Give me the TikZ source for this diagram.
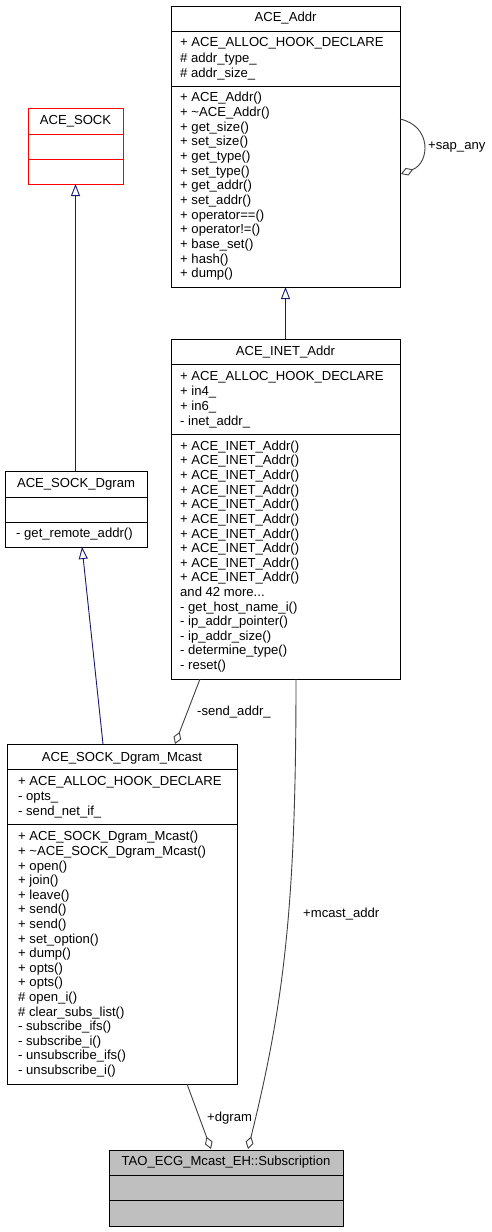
\documentclass[tikz,border=0pt]{standalone}
\usepackage{fontspec}
\setmainfont{Liberation Sans}
\usetikzlibrary{arrows.meta}
\definecolor{inhcol}{HTML}{191970}
\definecolor{aggcol}{HTML}{404040}
\definecolor{boxgray}{HTML}{BFBFBF}
\newcommand\umlrows[5]{\foreach \t [count=\i from 0] in {#5} {\node[rowtext] (#4\i) at (#1, {#2 + \i*#3}) {\t};}}
\tikzset{
  rowtext/.style={anchor=base west, inner sep=0pt, font=\fontsize{13.1}{15}\selectfont},
  titletext/.style={anchor=base, inner sep=0pt, font=\fontsize{13.1}{15}\selectfont},
  labeltext/.style={anchor=base west, inner sep=0pt, font=\fontsize{13.1}{15}\selectfont},
  umlbox/.style={draw=black, line width=1pt, anchor=north west, inner sep=0pt, outer sep=0pt},
  divider/.style={draw=black, line width=1pt},
  inherit/.style={draw=inhcol, line width=0.9pt, -{Triangle[open, length=12pt, width=9pt]}},
  aggr/.style={draw=aggcol, line width=0.9pt, -{Diamond[open, length=13pt, width=8pt]}},
}
\begin{document}
\begin{tikzpicture}[x=1pt,y=-1pt]
\useasboundingbox[fill=white] (0,0) rectangle (491,1232);

% ---------- ACE_Addr
\node[umlbox, minimum width=229pt, minimum height=281pt] (addr) at (171,6) {};
\draw[divider] (171,31) -- (400,31);
\draw[divider] (171,86) -- (400,86);
\node[titletext] (addrT) at (285.5,21.7) {ACE\_Addr};
\umlrows{180}{46.9}{15.2}{addrA}{+ ACE\_ALLOC\_HOOK\_DECLARE, \# addr\_type\_, \# addr\_size\_}
\umlrows{180}{101.9}{14.67}{addrM}{+ ACE\_Addr(), + \textasciitilde ACE\_Addr(), + get\_size(), + set\_size(), + get\_type(), + set\_type(), + get\_addr(), + set\_addr(), + operator==(), + operator!=(), + base\_set(), + hash(), + dump()}

% ---------- ACE_SOCK
\node[umlbox, draw=red, minimum width=95pt, minimum height=76pt] (sock) at (28,108) {};
\draw[divider, draw=red] (28,134) -- (123,134);
\draw[divider, draw=red] (28,159) -- (123,159);
\node[titletext] (sockT) at (75.5,124.6) {ACE\_SOCK};

% ---------- ACE_SOCK_Dgram
\node[umlbox, minimum width=142pt, minimum height=76pt] (dgram) at (5,471) {};
\draw[divider] (5,497) -- (147,497);
\draw[divider] (5,522) -- (147,522);
\node[titletext] (dgramT) at (76,487.3) {ACE\_SOCK\_Dgram};
\node[rowtext] (dgramM) at (16,537.9) {- get\_remote\_addr()};

% ---------- ACE_INET_Addr
\node[umlbox, minimum width=229pt, minimum height=340pt] (inet) at (171,339) {};
\draw[divider] (171,364) -- (400,364);
\draw[divider] (171,434) -- (400,434);
\node[titletext] (inetT) at (285.5,355.3) {ACE\_INET\_Addr};
\umlrows{180}{380.6}{14.9}{inetA}{+ ACE\_ALLOC\_HOOK\_DECLARE, + in4\_, + in6\_, - inet\_addr\_}
\umlrows{180}{450.3}{14.62}{inetM}{+ ACE\_INET\_Addr(), + ACE\_INET\_Addr(), + ACE\_INET\_Addr(), + ACE\_INET\_Addr(), + ACE\_INET\_Addr(), + ACE\_INET\_Addr(), + ACE\_INET\_Addr(), + ACE\_INET\_Addr(), + ACE\_INET\_Addr(), + ACE\_INET\_Addr(), and 42 more.\kern0pt.\kern0pt., - get\_host\_name\_i(), - ip\_addr\_pointer(), - ip\_addr\_size(), - determine\_type(), - reset()}

% ---------- ACE_SOCK_Dgram_Mcast
\node[umlbox, minimum width=230pt, minimum height=340pt] (mcast) at (7,744) {};
\draw[divider] (7,769) -- (237,769);
\draw[divider] (7,824) -- (237,824);
\node[titletext] (mcastT) at (122,761.3) {ACE\_SOCK\_Dgram\_Mcast};
\umlrows{18}{785.6}{14.85}{mcastA}{+ ACE\_ALLOC\_HOOK\_DECLARE, - opts\_, - send\_net\_if\_}
\umlrows{18}{840.9}{14.6}{mcastM}{+ ACE\_SOCK\_Dgram\_Mcast(), + \textasciitilde ACE\_SOCK\_Dgram\_Mcast(), + open(), + join(), + leave(), + send(), + send(), + set\_option(), + dump(), + opts(), + opts(), \# open\_i(), \# clear\_subs\_list(), - subscribe\_ifs(), - subscribe\_i(), - unsubscribe\_ifs(), - unsubscribe\_i()}

% ---------- TAO_ECG_Mcast_EH::Subscription
\node[umlbox, fill=boxgray, minimum width=234pt, minimum height=76pt] (sub) at (109,1150) {};
\draw[divider] (109,1175) -- (343,1175);
\draw[divider] (109,1200) -- (343,1200);
\node[titletext] (subT) at (226,1165.6) {TAO\_ECG\_Mcast\_EH::Subscription};

% ---------- connector end points
\coordinate (mcastInh) at (103,744);
\coordinate (dgramInh) at (82,547);
\coordinate (inetSA) at (200,679);
\coordinate (mcastSA) at (175,744);
\coordinate (inetMA) at (296,679);
\coordinate (subMA) at (248,1149);
\coordinate (mcastDG) at (187,1084);
\coordinate (subDG) at (211,1149);
\coordinate (addrL1) at (400,119);
\coordinate (addrL2) at (401,174);

% ---------- inheritance
\draw[inherit] (dgram.north -| sock.south) -- (sock.south);
\draw[inherit] (inet.north) -- (addr.south);
\draw[inherit] (mcastInh) -- (dgramInh);

% ---------- aggregation
\draw[aggr] (addrL1) .. controls (432,126) and (430,163) .. (addrL2);
\node[labeltext] (lSap) at (428,149.6) {+sap\_any};
\draw[aggr] (inetSA) -- (mcastSA);
\node[labeltext] (lSend) at (197,715.6) {-send\_addr\_};
\draw[aggr] (inetMA) .. controls (296,900) and (285,1000) .. (subMA);
\node[labeltext] (lMcast) at (303,917.6) {+mcast\_addr};
\draw[aggr] (mcastDG) -- (subDG);
\node[labeltext] (lDgram) at (207,1121.6) {+dgram};
\end{tikzpicture}
\end{document}
